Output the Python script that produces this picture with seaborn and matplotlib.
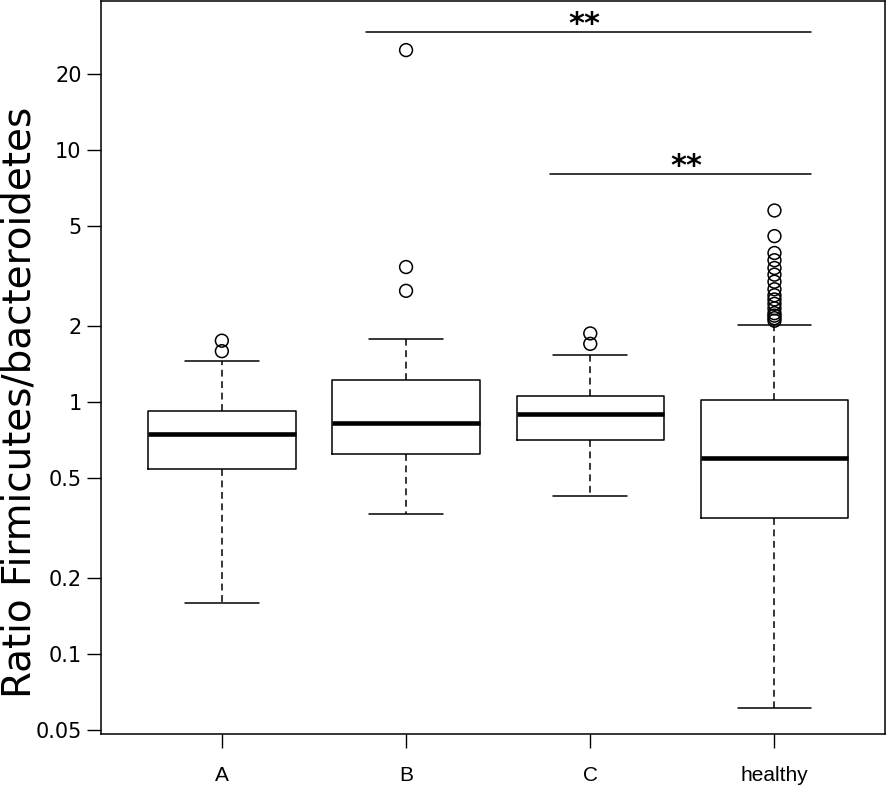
import numpy as np
import pandas as pd
import matplotlib
matplotlib.use('Agg')
import matplotlib.pyplot as plt
import seaborn as sns

# ---------- data ----------
groups = ['A', 'B', 'C', 'healthy']

# five-number summaries (lower whisker, Q1, median, Q3, upper whisker)
lower_whisker = [0.159, 0.36, 0.424, 0.0612]
q1 = [0.542, 0.622, 0.707, 0.346]
median = [0.746, 0.825, 0.896, 0.600]
q3 = [0.921, 1.223, 1.056, 1.018]
upper_whisker = [1.455, 1.78, 1.537, 2.02]

# outliers
outlier_group = ['A', 'A', 'B', 'B', 'B', 'C', 'C'] + ['healthy'] * 16
outlier_value = [1.75, 1.59,
                 24.9, 3.43, 2.76,
                 1.87, 1.70,
                 5.75, 4.55, 3.9, 3.65, 3.4, 3.2, 3.0, 2.8,
                 2.65, 2.55, 2.45, 2.35, 2.25, 2.2, 2.15, 2.1]

# significance brackets
sig_from = ['B', 'C']
sig_to = ['healthy', 'healthy']
sig_height = [29.3, 8.03]
sig_label = ['**', '**']

yticks = [0.05, 0.1, 0.2, 0.5, 1, 2, 5, 10, 20]
ytick_labels = ['0.05', '0.1', '0.2', '0.5', '1', '2', '5', '10', '20']

# ---------- build the table ----------
rows = []
for i, g in enumerate(groups):
    for v in [lower_whisker[i], q1[i], median[i], q3[i], upper_whisker[i]]:
        rows.append({'group': g, 'ratio': v})
df = pd.DataFrame(rows)

out = pd.DataFrame({'group': outlier_group, 'ratio': outlier_value})
out['pos'] = out['group'].map({g: i for i, g in enumerate(groups)})

# ---------- plot ----------
sns.set_style('ticks')
plt.rcParams['font.family'] = ['DejaVu Sans']
plt.rcParams['text.color'] = 'black'
plt.rcParams['xtick.color'] = 'black'
plt.rcParams['ytick.color'] = 'black'
plt.rcParams['axes.labelcolor'] = 'black'

fig = plt.figure(figsize=(8.95, 7.89), dpi=100)
ax = fig.add_axes([101 / 895, 1 - 734 / 789, 784 / 895, 733 / 789])

sns.boxplot(data=df, x='group', y='ratio', order=groups, ax=ax,
            whis=np.inf, width=0.8, fill=False, color='black',
            linewidth=1.1, log_scale=True, showfliers=False,
            medianprops=dict(linewidth=3.3, color='black'),
            whiskerprops=dict(linestyle=(0, (4.5, 3)), color='black'),
            capprops=dict(color='black'),
            boxprops=dict(color='black'))

sns.scatterplot(data=out, x='pos', y='ratio', ax=ax, marker='o', s=85,
                facecolor='none', edgecolor='black', linewidth=1.1,
                legend=False, zorder=5)

for f, t, h, lab in zip(sig_from, sig_to, sig_height, sig_label):
    x0 = groups.index(f) - 0.22
    x1 = groups.index(t) + 0.2
    ax.plot([x0, x1], [h, h], color='black', lw=1.1)
    ax.text((x0 + x1) / 2 + (0.03 if f == 'C' else -0.02), h * 1.07, lab,
            ha='center', va='center', fontsize=22, fontweight='bold',
            color='black')

ax.set_yscale('log')
ax.set_ylim(0.0481, 39.0)
ax.set_xlim(-0.656, 3.6)
ax.set_yticks(yticks)
ax.set_yticklabels(ytick_labels)
ax.minorticks_off()
ax.set_xticks(range(len(groups)))
ax.set_xticklabels(groups, fontfamily='Liberation Sans')
ax.set_xlabel('')
ax.set_ylabel('')

ax.tick_params(axis='both', length=10, width=1.0, direction='out', color='black')
ax.tick_params(axis='y', labelsize=15, pad=4, labelcolor='black')
ax.tick_params(axis='x', labelsize=15, pad=13, labelcolor='black')
for s in ax.spines.values():
    s.set_visible(True)
    s.set_linewidth(1.1)
    s.set_color('black')

fig.text(20 / 895, 1 - 402 / 789, 'Ratio Firmicutes/bacteroidetes',
         rotation=90, ha='center', va='center', fontsize=28, color='black')

fig.savefig('out.png', dpi=100)
